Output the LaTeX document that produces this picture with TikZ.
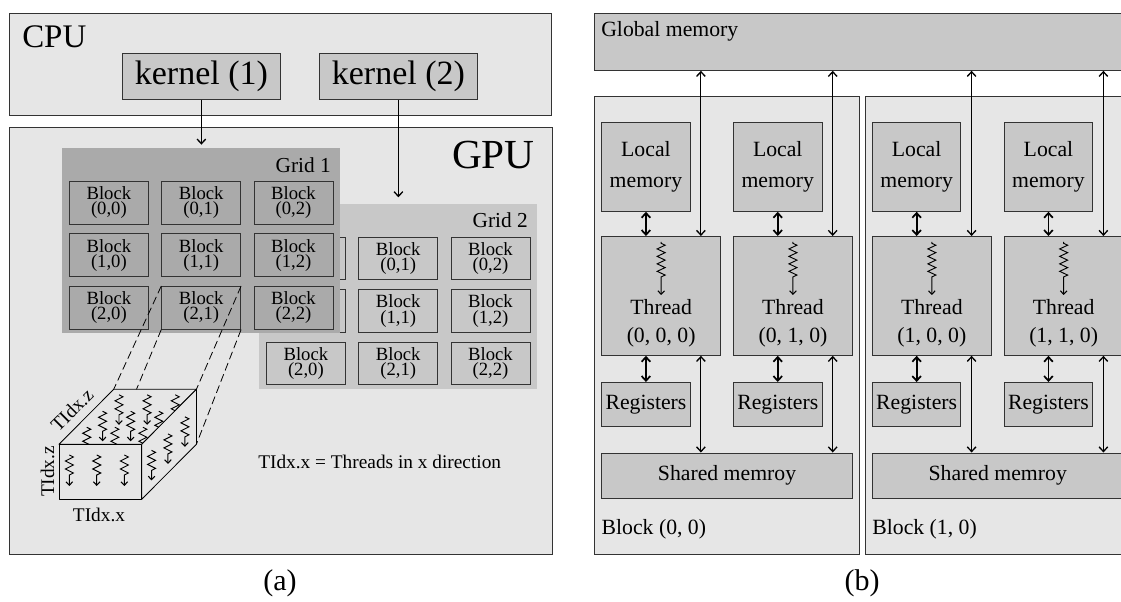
\documentclass[tikz,border=0pt]{standalone}
\usepackage{fontspec}
\setmainfont{Liberation Serif}
\usepackage{tikz}
\usetikzlibrary{positioning, arrows.meta, decorations.pathmorphing}

\definecolor{light}{HTML}{E6E6E6}
\definecolor{mid}{HTML}{C8C8C8}
\definecolor{dark}{HTML}{AAAAAA}

\tikzset{
	px/.style 2 args	= {minimum width = #1*0.75pt, minimum height = #2*0.75pt},
	box/.style			= {rectangle, draw = black!80, line width = 0.6pt, inner sep = 0pt, anchor = north west, align = center},
	panel/.style		= {box, fill = light},
	kernel/.style		= {box, fill = mid, font = \fontsize{25.5}{30}\selectfont},
	membox/.style		= {box, fill = mid, font = \fontsize{16.3}{23.5}\selectfont},
	grid_dark/.style	= {box, draw = none, fill = dark},
	grid_mid/.style		= {box, draw = none, fill = mid},
	blk_dark/.style		= {box, fill = dark, font = \fontsize{14}{11.5}\selectfont},
	blk_mid/.style		= {box, fill = mid, font = \fontsize{14}{11.5}\selectfont},
	lbl/.style			= {inner sep = 0pt, align = center},
	face/.style			= {fill = light, draw = black, line width = 0.6pt, line join = round},
	thr/.style			= {-{Straight Barb[length = 2.6pt, width = 5pt, line width = 0.8pt]}, line width = 0.7pt, decorate,
							decoration = {zigzag, segment length = 6pt, amplitude = 3pt, post length = 6.5pt}},
	bigthr/.style		= {thr, decoration = {zigzag, segment length = 5.6pt, amplitude = 3pt, pre length = 1pt, post length = 12pt}},
	onearrow/.style		= {-{Straight Barb[length = 3.5pt, width = 6.5pt, line width = 1pt]}, line width = 0.7pt},
	biarrow/.style		= {{Straight Barb[length = 3.5pt, width = 6.5pt, line width = 1pt]}-{Straight Barb[length = 3.5pt, width = 6.5pt, line width = 1pt]}, line width = 0.7pt},
	shortarrow/.style	= {{Straight Barb[length = 3.5pt, width = 6.5pt, line width = 1.3pt]}-{Straight Barb[length = 3.5pt, width = 6.5pt, line width = 1.3pt]}, line width = 1.3pt},
	cut/.style			= {dash pattern = on 6pt off 3pt, line width = 0.6pt},
}

\begin{document}
\begin{tikzpicture}[x = 0.75pt, y = -0.75pt]
\useasboundingbox (0, 0) rectangle (1121, 602);
\clip (0, 0) rectangle (1121, 602);

% (a) host and device
\path	(9, 13)		node(cpu)		[panel, px = {542}{102}]	{}
		(122, 53)	node(kernel_1)	[kernel, px = {158}{46}]	{kernel (1)}
		(319, 53)	node(kernel_2)	[kernel, px = {158}{46}]	{kernel (2)}
		(9, 127)	node(gpu)		[panel, px = {543}{427}]	{};

\node[lbl, anchor = base west, font = \fontsize{24.7}{30}\selectfont] (cpu_title) at (22, 48) {CPU};
\node[lbl, anchor = base east, font = \fontsize{31}{36}\selectfont] (gpu_title) at (535, 169) {GPU};

% grids
\path	(259, 204)	node(grid_2)	[grid_mid, px = {278}{185}]	{};
\node[lbl, anchor = base east, font = \fontsize{16}{20}\selectfont] (grid_2_title) at (528, 228) {Grid 2};
\foreach \r in {0, 1, 2}
	\foreach \c in {0, 1, 2}
		\path ({266 + 92.3*\c}, {236.7 + 52.5*\r}) node(g2_\r\c) [blk_mid, px = {79}{42.7}] {\ifnum\c>0 Block\\(\r,\c)\else\ifnum\r=2 Block\\(\r,\c)\fi\fi};

\path	(62, 148)	node(grid_1)	[grid_dark, px = {278}{185}]	{};
\node[lbl, anchor = base east, font = \fontsize{16}{20}\selectfont] (grid_1_title) at (331, 173) {Grid 1};
\foreach \r in {0, 1, 2}
	\foreach \c in {0, 1, 2}
		\path ({69 + 92.3*\c}, {181 + 52.5*\r}) node(g1_\r\c) [blk_dark, px = {79}{42.7}] {Block\\(\r,\c)};

\draw[onearrow, shorten > = 2.5pt]	(kernel_1.south)	--	(grid_1.north);
\draw[onearrow, shorten > = 5pt]	(kernel_2.south)	--	(grid_2.north);

% block of threads
\coordinate (ftl) at (59, 444.3);
\coordinate (ftr) at (141.7, 444.3);
\coordinate (fbr) at (141.7, 499.3);
\coordinate (fbl) at (59, 499.3);
\coordinate (btl) at (113.7, 389.3);
\coordinate (btr) at (196.4, 389.3);
\coordinate (bbr) at (196.4, 444.3);
\coordinate (bbl) at (113.7, 444.3);

\draw[cut]	(g1_21.north west)	--	(btl);
\draw[cut]	(g1_21.south west)	--	(bbl);
\draw[cut]	(g1_21.north east)	--	(btr);
\draw[cut]	(g1_21.south east)	--	(bbr);

\filldraw[face] (ftl) -- (btl) -- (btr) -- (ftr) -- cycle;
\foreach \u in {0.13, 0.47, 0.81}
	\foreach \v in {0.31, 0.6, 0.9}
		\draw[thr] ({59 + 82.7*\u + 54.7*\v}, {444.3 - 55*\v}) -- ++(0, 30);
\filldraw[face] (ftr) -- (btr) -- (bbr) -- (fbr) -- cycle;
\foreach \v in {0.18, 0.48, 0.79}
	\draw[thr] ({141.7 + 54.7*\v}, {444.3 - 55*\v + 16}) -- ++(0, 30);
\filldraw[face] (ftl) rectangle (fbr);
\foreach \u in {0.125, 0.456, 0.79}
	\draw[thr] ({59 + 82.7*\u}, 455) -- ++(0, 31);

\node[lbl, rotate = 45, font = \fontsize{14.5}{16}\selectfont] (dim_z_top) at (72, 410) {TIdx.z};
\node[lbl, rotate = 90, font = \fontsize{14.5}{16}\selectfont] (dim_z_side) at (47.5, 471.5) {TIdx.z};
\node[lbl, font = \fontsize{14.5}{16}\selectfont] (dim_x) at (99, 515) {TIdx.x};
\node[lbl, anchor = base west, font = \fontsize{14.5}{16}\selectfont] (legend) at (258, 468) {TIdx.x = Threads in x direction};

% (b) memory hierarchy
\path	(594, 13)	node(global_memory)	[membox, px = {560}{57}]	{};
\node[lbl, anchor = base west, font = \fontsize{16.3}{20}\selectfont] (global_title) at (601, 37) {Global memory};

\foreach \j in {0, 1} {
	\pgfmathsetmacro{\bx}{594 + 270.7*\j}
	\path	(\bx, 96)	node(blk\j)	[panel, px = {264.5}{458}]	{};
	\node[lbl, anchor = base west, font = \fontsize{16.3}{20}\selectfont] (blk_title\j) at (\bx + 7.4, 534) {Block (\j, 0)};
	\path	(\bx + 7.4, 452.5)	node(sh\j)	[membox, px = {250.5}{45.5}]	{Shared memroy};
	\foreach \k in {0, 1} {
		\pgfmathsetmacro{\cx}{\bx + 7.4 + 131.8*\k}
		\path	(\cx, 122)	node(lm\j\k)	[membox, px = {88.3}{89}]	{Local\\memory}
				(\cx, 236)	node(th\j\k)	[membox, px = {118.7}{119}]	{}
				(\cx, 382)	node(rg\j\k)	[membox, px = {88.3}{44}]	{Registers};
		\node[lbl, font = \fontsize{16.3}{21}\selectfont, above = 6pt of th\j\k.south] (tht\j\k) {Thread\\(\j, \k, 0)};
		\draw[bigthr] ([yshift = -4.5pt]th\j\k.north) -- ++(0, 53);

		\coordinate (up\j\k) at ([xshift = -15pt]th\j\k.north east);
		\coordinate (dn\j\k) at ([xshift = -15pt]th\j\k.south east);
		\draw[biarrow]		(up\j\k)		--	(up\j\k |- global_memory.south);
		\draw[biarrow]		(dn\j\k)		--	(dn\j\k |- sh\j.north);
		\draw[shortarrow]	(lm\j\k.south)	--	(lm\j\k.south |- th\j\k.north);
		\draw[shortarrow]	(rg\j\k.north)	--	(rg\j\k.north |- th\j\k.south);
	}
}

\node[lbl, font = \fontsize{22.5}{26}\selectfont] (caption_a) at (280, 583) {(a)};
\node[lbl, font = \fontsize{22.5}{26}\selectfont] (caption_b) at (862, 583) {(b)};
\end{tikzpicture}
\end{document}
